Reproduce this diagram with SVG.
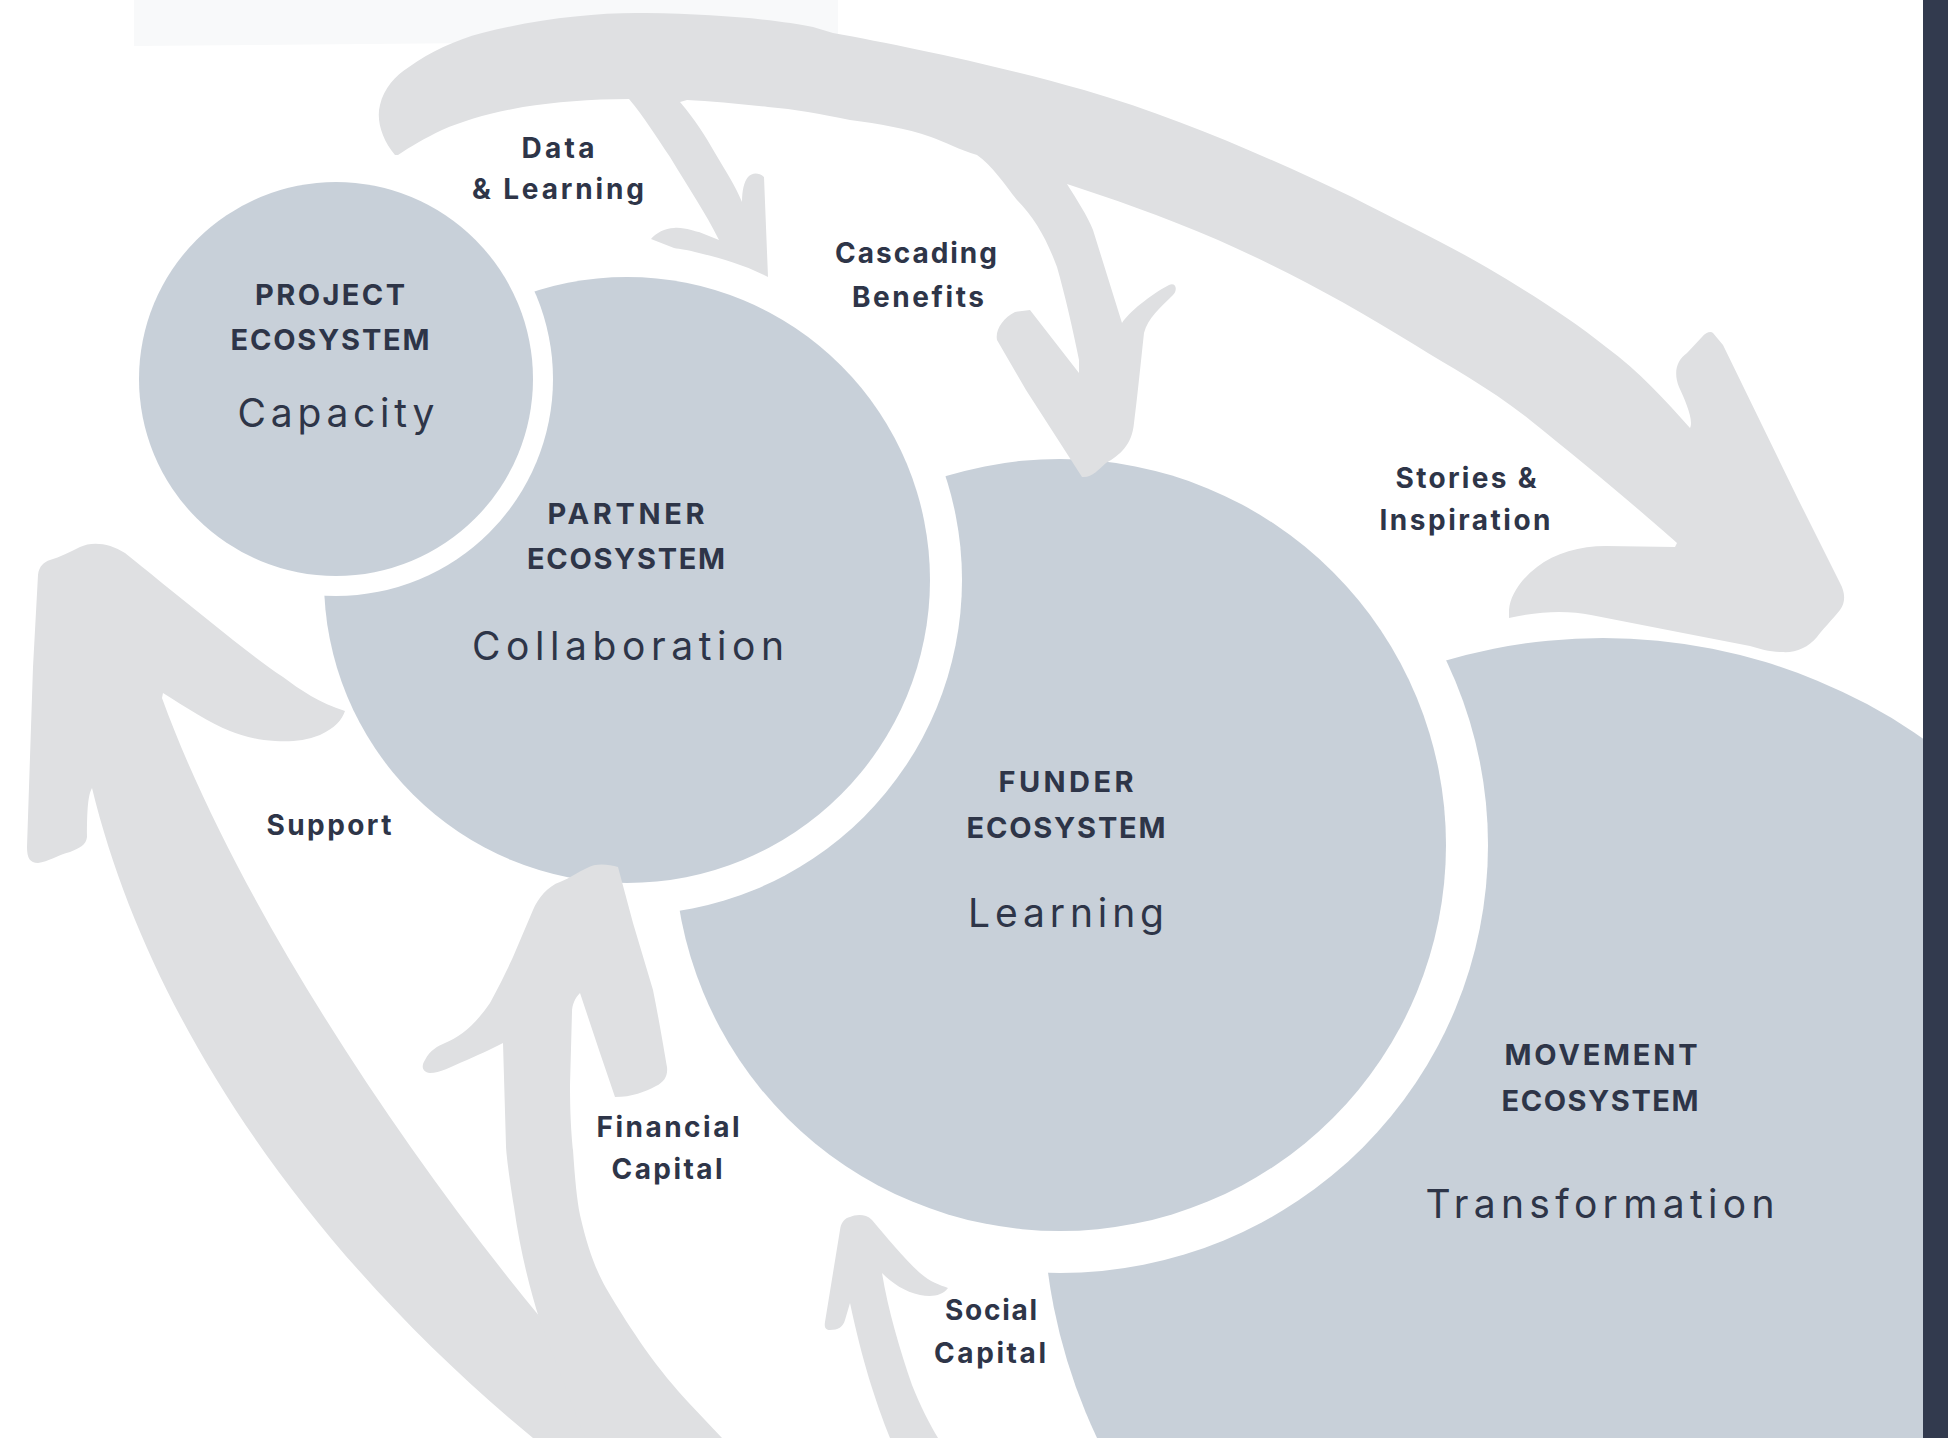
<svg xmlns="http://www.w3.org/2000/svg" width="1948" height="1438" viewBox="0 0 1948 1438">
<style>
.bg{fill:#ffffff}
.gap{fill:#ffffff}
.eco{fill:#c8d0d9}
.arrow{fill:#dfe0e2}
.hd{font-family:Inter,"Open Sans","DejaVu Sans",sans-serif;font-weight:700;font-size:29px;fill:#2e3548;text-anchor:middle}
.lb{font-family:Inter,"Open Sans","DejaVu Sans",sans-serif;font-weight:700;font-size:28px;fill:#2e3548;text-anchor:middle}
.kw{font-family:Inter,"Open Sans","DejaVu Sans",sans-serif;font-weight:400;font-size:39px;fill:#2e3548;text-anchor:middle}
</style>
<rect class="bg" x="0" y="0" width="1948" height="1438"/>
<polygon points="134,0 838,0 838,40 134,46" fill="#f8f9fa"/>

<g id="movement">
  <circle class="eco" cx="1603" cy="1198" r="560"/>
  <text class="hd" x="1601" y="1065" textLength="193">MOVEMENT</text>
  <text class="hd" x="1600" y="1111" textLength="197">ECOSYSTEM</text>
  <text class="kw" x="1600" y="1218" textLength="349">Transformation</text>
</g>
<g id="funder">
  <circle class="gap" cx="1060" cy="845" r="428"/>
  <circle class="eco" cx="1060" cy="845" r="386"/>
  <text class="hd" x="1066" y="792" textLength="135">FUNDER</text>
  <text class="hd" x="1066" y="838" textLength="199">ECOSYSTEM</text>
  <text class="kw" x="1066" y="927" textLength="196">Learning</text>
</g>
<g id="partner">
  <circle class="gap" cx="627" cy="580" r="335"/>
  <circle class="eco" cx="627" cy="580" r="303"/>
  <text class="hd" x="626" y="524" textLength="157">PARTNER</text>
  <text class="hd" x="626" y="569" textLength="198">ECOSYSTEM</text>
  <text class="kw" x="628" y="660" textLength="312">Collaboration</text>
</g>
<g id="project">
  <circle class="gap" cx="336" cy="379" r="217"/>
  <circle class="eco" cx="336" cy="379" r="197"/>
  <text class="hd" x="330" y="305" textLength="150">PROJECT</text>
  <text class="hd" x="330" y="350" textLength="199">ECOSYSTEM</text>
  <text class="kw" x="336" y="427" textLength="197">Capacity</text>
</g>

<g id="connectors">
  <path id="top-arrow" class="arrow" d="M 395,155 C 382,140 376,120 380,105 C 384,88 395,76 409,67 C 430,52 455,40 482,33 C 540,18 600,12 646,13 C 720,14 780,20 813,27 L 833,33 C 900,45 1000,66 1084,90 C 1180,118 1270,158 1352,197 C 1400,222 1445,243 1486,267 C 1530,293 1570,318 1606,347 C 1640,372 1665,400 1690,428 C 1694,420 1685,400 1679,387 C 1673,372 1677,360 1687,353 L 1702,337 C 1706,332 1711,331 1713,333 L 1723,345 L 1797,497 L 1840,583 C 1845,592 1846,602 1840,610 C 1832,620 1822,630 1817,637 C 1808,648 1795,653 1782,652 C 1770,652 1760,649 1750,646 L 1683,633 L 1591,615 C 1570,611 1545,610 1509,618 L 1509,610 C 1510,596 1520,580 1537,567 C 1555,553 1580,546 1606,546 L 1675,547 L 1677,543 C 1640,510 1580,460 1530,420 C 1490,388 1450,367 1415,345 C 1350,305 1290,272 1218,240 C 1160,215 1110,198 1067,184 C 1077,200 1087,215 1093,230 L 1122,323 C 1128,313 1150,295 1169,285 C 1176,282 1178,290 1173,295 C 1160,308 1148,318 1144,333 C 1140,370 1137,400 1134,423 C 1132,445 1120,455 1106,463 C 1098,470 1092,478 1082,477 L 1026,390 L 997,340 C 995,330 1003,318 1015,312 L 1030,310 L 1079,373 L 1079,360 C 1073,330 1065,295 1057,267 C 1047,240 1035,218 1017,200 C 1005,185 992,165 977,155 C 960,150 945,142 931,137 C 905,128 880,124 850,120 C 820,114 795,109 768,107 C 740,104 710,101 687,100 L 680,102 C 695,120 705,135 715,153 C 725,170 735,185 742,202 C 742,190 744,182 748,177 C 752,173 758,172 764,177 L 768,277 C 745,265 720,258 699,253 C 688,250 680,249 674,248 L 651,239 C 656,233 665,228 674,228 C 685,227 695,232 699,232 L 719,240 C 705,212 690,190 670,157 C 655,135 645,118 629,99 C 590,99 555,102 523,107 C 490,113 465,120 442,130 C 425,138 410,147 398,155 Z"/>
  <path id="support-arrow" class="arrow" d="M 533,1438 C 323,1265 152,1034 92,788 C 88,795 87,810 87,837 C 86,845 80,848 70,852 C 58,855 48,862 38,863 C 30,863 27,858 27,847 L 33,667 L 38,575 C 39,566 44,562 50,560 C 60,557 70,552 80,547 C 92,541 110,543 125,553 C 140,565 155,577 167,587 L 233,640 C 250,653 265,665 283,677 C 300,690 320,703 345,711 C 342,720 335,728 320,735 C 305,741 290,742 275,741 C 255,740 240,735 230,731 C 210,723 185,707 163,693 L 162,698 C 232,891 390,1135 540,1317 L 645,1438 Z"/>
  <path id="financial-arrow" class="arrow" d="M 585,1438 L 540,1321 C 530,1290 520,1250 514,1207 C 508,1170 506,1150 506,1146 L 503,1043 C 490,1050 475,1056 467,1060 C 450,1067 440,1073 430,1073 C 422,1072 421,1066 425,1060 C 430,1050 438,1046 445,1043 C 460,1037 475,1025 490,1003 C 500,985 508,968 513,957 L 533,910 C 538,898 548,886 560,882 C 570,878 578,872 587,868 C 595,863 608,864 618,867 L 633,923 L 653,990 C 660,1025 664,1050 667,1067 C 668,1076 664,1082 656,1086 C 645,1092 632,1097 615,1097 L 600,1053 L 580,993 C 575,998 572,1005 572,1012 L 570,1085 C 570,1120 572,1140 573,1150 C 575,1180 577,1200 580,1215 C 588,1250 596,1270 606,1288 C 620,1312 632,1330 645,1349 C 660,1370 675,1388 688,1402 L 722,1438 Z"/>
  <path id="social-arrow" class="arrow" d="M 890,1438 C 875,1400 862,1360 850,1303 L 845,1320 C 843,1327 838,1330 830,1330 C 826,1330 824,1328 825,1322 L 840,1230 C 841,1222 845,1218 850,1217 C 855,1215 865,1213 872,1220 C 885,1235 905,1260 920,1273 C 930,1282 940,1285 948,1288 C 942,1296 932,1297 920,1295 C 905,1292 892,1283 882,1273 C 888,1310 900,1350 912,1385 C 920,1405 930,1425 938,1438 Z"/>
  <text class="lb" x="558" y="158" textLength="73">Data</text>
  <text class="lb" x="558" y="199" textLength="172">&amp; Learning</text>
  <text class="lb" x="916" y="263" textLength="162">Cascading</text>
  <text class="lb" x="918" y="307" textLength="132">Benefits</text>
  <text class="lb" x="1466" y="488" textLength="141">Stories &amp;</text>
  <text class="lb" x="1465" y="530" textLength="171">Inspiration</text>
  <text class="lb" x="329" y="835" textLength="125">Support</text>
  <text class="lb" x="668" y="1137" textLength="143">Financial</text>
  <text class="lb" x="667" y="1179" textLength="111">Capital</text>
  <text class="lb" x="991" y="1320" textLength="92">Social</text>
  <text class="lb" x="990" y="1363" textLength="112">Capital</text>
</g>
<rect x="1923" y="0" width="25" height="1438" fill="#323a4e"/>
</svg>
